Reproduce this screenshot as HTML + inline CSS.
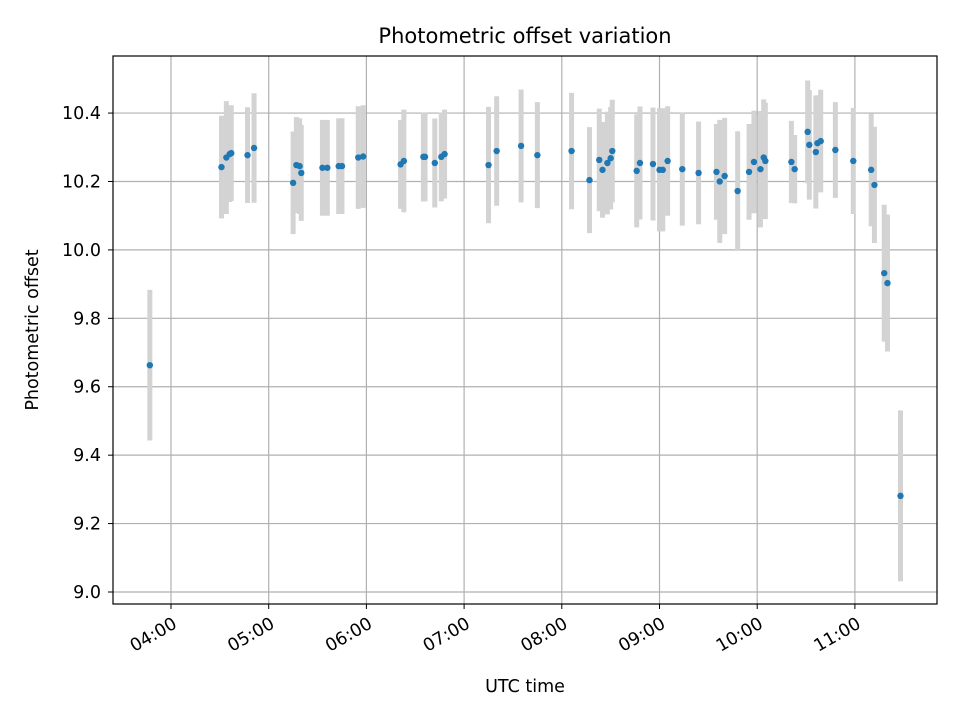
<!DOCTYPE html>
<html><head><meta charset="utf-8"><style>
body{margin:0;background:#fff}
svg text{font-family:"DejaVu Sans","Liberation Sans",sans-serif;fill:#000}
</style></head><body>
<svg id="c" width="960" height="720" xmlns="http://www.w3.org/2000/svg"></svg>
<script>
const times=["03:47","04:31","04:34","04:36","04:37","04:47","04:51","05:15","05:17","05:19","05:20","05:33","05:36","05:43","05:45","05:55","05:58","06:21","06:23","06:35","06:36","06:42","06:46","06:48","07:15","07:20","07:35","07:45","08:06","08:17","08:23","08:25","08:28","08:30","08:31","08:46","08:48","08:56","09:00","09:02","09:05","09:14","09:24","09:35","09:37","09:40","09:48","09:55","09:58","10:02","10:04","10:05","10:21","10:23","10:31","10:32","10:36","10:37","10:39","10:48","10:59","11:10","11:12","11:18","11:20","11:28"];
const offsets=[9.663,10.242,10.27,10.28,10.283,10.277,10.298,10.196,10.248,10.245,10.225,10.24,10.24,10.245,10.245,10.27,10.273,10.25,10.26,10.272,10.272,10.254,10.272,10.28,10.248,10.289,10.304,10.277,10.289,10.204,10.263,10.234,10.254,10.268,10.289,10.231,10.254,10.251,10.234,10.234,10.26,10.236,10.225,10.228,10.2,10.216,10.172,10.228,10.257,10.236,10.27,10.26,10.257,10.236,10.345,10.307,10.286,10.312,10.318,10.292,10.26,10.234,10.19,9.932,9.903,9.281];
const errors=[0.22,0.15,0.165,0.14,0.14,0.14,0.16,0.15,0.14,0.14,0.14,0.14,0.14,0.14,0.14,0.15,0.15,0.13,0.15,0.13,0.13,0.13,0.13,0.13,0.17,0.16,0.165,0.155,0.17,0.155,0.15,0.14,0.15,0.15,0.15,0.165,0.165,0.165,0.18,0.18,0.16,0.165,0.15,0.14,0.18,0.17,0.175,0.14,0.15,0.17,0.17,0.17,0.12,0.1,0.15,0.16,0.165,0.14,0.15,0.14,0.155,0.165,0.17,0.2,0.2,0.25];
const xTicks=["04:00","05:00","06:00","07:00","08:00","09:00","10:00","11:00"];
const yTicks=[9.0,9.2,9.4,9.6,9.8,10.0,10.2,10.4];
const L=113,R=937,T=56,B=604;
const mins=s=>{const p=s.split(":");return (+p[0])*60+(+p[1]);};
const X=m=>171+(m-240)*97.7/60;
const Y=v=>592-(v-9)*342.1;
const svg=document.getElementById('c');const NS="http://www.w3.org/2000/svg";
function mk(tag,attrs,parent){const e=document.createElementNS(NS,tag);for(const k in attrs)e.setAttribute(k,attrs[k]);(parent||svg).appendChild(e);return e;}
const grid=mk('g',{});


xTicks.forEach(t=>{const x=X(mins(t));
const l=mk('line',{x1:x,x2:x,y1:T,y2:B,stroke:'#b0b0b0','stroke-width':1.2},grid);


const tk=mk('line',{x1:x,x2:x,y1:B,y2:B+5,stroke:'#000'});


const ax=x+3,ay=B+24;
const tx=mk('text',{x:ax,y:ay,'font-size':17.5,'text-anchor':'end',transform:`rotate(-30 ${ax} ${ay-8})`});
tx.textContent=t;


});
yTicks.forEach(v=>{const y=Y(v);
const l=mk('line',{x1:L,x2:R,y1:y,y2:y,stroke:'#b0b0b0','stroke-width':1.2},grid);


const tk=mk('line',{x1:L-5,x2:L,y1:y,y2:y,stroke:'#000'});


const tx=mk('text',{x:L-12,y:y+6,'font-size':17.5,'text-anchor':'end'});
tx.textContent=v.toFixed(1);


});
times.forEach((t,i)=>{const x=X(mins(t));
const e=mk('line',{x1:x,x2:x,y1:Y(offsets[i]+errors[i]),y2:Y(offsets[i]-errors[i]),stroke:'#d3d3d3','stroke-width':5});


});
times.forEach((t,i)=>{
const c=mk('circle',{cx:X(mins(t)),cy:Y(offsets[i]),r:3.2,fill:'#1f77b4'});


});
const fr=mk('rect',{x:L,y:T,width:R-L,height:B-T,fill:'none',stroke:'#000','stroke-width':1.2});


const ti=mk('text',{x:(L+R)/2+0,y:43,'font-size':21,'text-anchor':'middle'});ti.textContent="Photometric offset variation";


const xl=mk('text',{x:(L+R)/2,y:692,'font-size':17.5,'text-anchor':'middle'});xl.textContent="UTC time";


const yl=mk('text',{x:38,y:330,'font-size':17.5,'text-anchor':'middle',transform:'rotate(-90 38 330)'});yl.textContent="Photometric offset";


</script>
</body></html>
